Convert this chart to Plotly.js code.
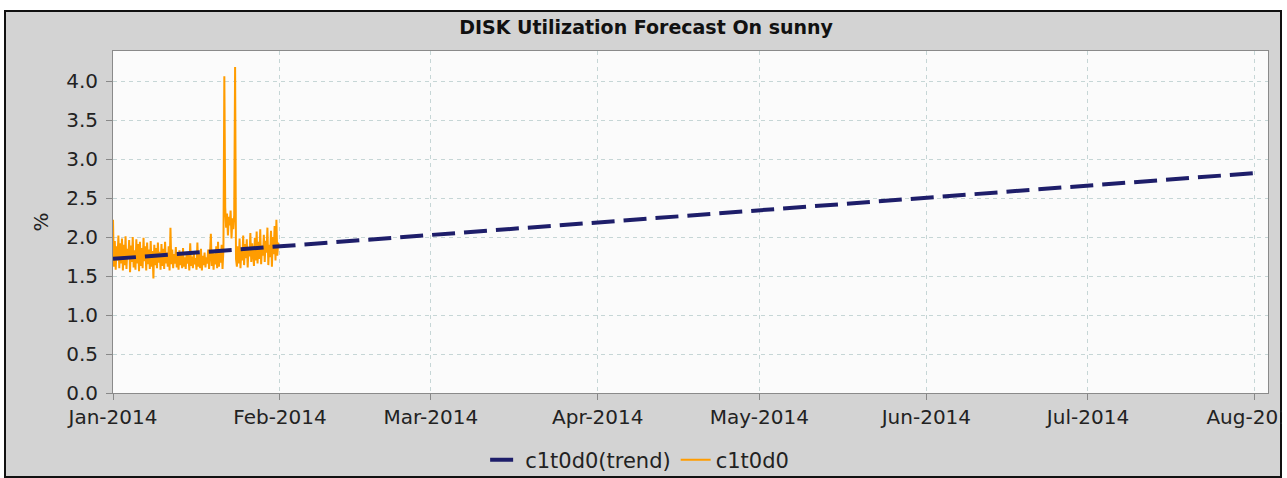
<!DOCTYPE html>
<html>
<head>
<meta charset="utf-8">
<script src="https://cdn.plot.ly/plotly-3.0.1.min.js"></script>
<style>
  html, body { margin: 0; padding: 0; background: #ffffff; }
  #chart { width: 1287px; height: 478px; }
</style>
</head>
<body>
<div id="chart"></div>
<script>
// ---- data ----
const chartTitle = 'DISK Utilization Forecast On sunny';
const yAxisTitle = '%';
const seriesName = 'c1t0d0';
const trendName = 'c1t0d0(trend)';

// measured utilisation, sampled every 4 hours starting 2014-01-01 00:00
const sampleStart = '2014-01-01T00:00:00';
const sampleStepHours = 4;
const diskUtil = [
  2.22, 1.62, 1.95, 1.58, 1.88, 1.70,
  2.02, 1.60, 1.92, 1.66, 1.98, 1.57,
  1.90, 1.64, 2.01, 1.59, 1.85, 1.72,
  1.96, 1.55, 1.89, 1.68, 2.00, 1.61,
  1.83, 1.58, 1.97, 1.66, 1.91, 1.56,
  1.94, 1.63, 1.86, 1.60, 1.99, 1.69,
  1.88, 1.57, 1.93, 1.65, 1.84, 1.59,
  1.95, 1.62, 1.82, 1.47, 1.90, 1.64,
  1.86, 1.60, 1.93, 1.67, 1.81, 1.58,
  1.91, 1.63, 1.85, 1.59, 1.94, 1.66,
  1.80, 1.62, 1.88, 1.57, 2.12, 1.65,
  1.84, 1.60, 1.78, 1.66, 1.87, 1.61,
  1.76, 1.58, 1.83, 1.64, 1.79, 1.60,
  1.86, 1.62, 1.74, 1.59, 1.81, 1.66,
  1.77, 1.57, 1.92, 1.63, 1.75, 1.60,
  1.82, 1.65, 1.73, 1.58, 1.93, 1.62,
  1.78, 1.60, 1.85, 1.57, 1.76, 1.64,
  1.80, 1.61, 1.74, 1.66, 1.84, 1.59,
  1.77, 2.04, 1.63, 1.82, 1.58, 1.79,
  1.65, 1.88, 1.60, 1.94, 1.62, 1.81,
  1.67, 1.90, 1.59, 1.84, 4.06, 2.38,
  2.12, 2.30, 2.02, 2.26, 2.15, 2.34,
  1.98, 2.24, 2.10, 2.28, 4.18, 1.72,
  1.62, 1.88, 1.66, 1.98, 1.60, 1.84,
  1.70, 2.02, 1.64, 1.91, 1.73, 1.97,
  1.61, 1.86, 1.75, 2.05, 1.68, 1.92,
  1.79, 1.63, 1.99, 1.70, 2.07, 1.66,
  1.94, 1.72, 2.10, 1.65, 1.89, 1.76,
  2.03, 1.68, 1.95, 1.80, 2.12, 1.64,
  1.90, 1.74, 2.08, 1.62, 2.00, 1.78,
  2.14, 1.70, 2.22, 1.76, 1.93
];

// linear trend (forecast) endpoints
const trendDates = ['2014-01-01', '2014-08-01'];
const trendValues = [1.72, 2.82];

// axes
const xRange = ['2014-01-01', '2014-08-03 10:00'];
const yRange = [0, 4.385];
const yTickVals = [0, 0.5, 1, 1.5, 2, 2.5, 3, 3.5, 4];
const yTickText = ['0.0', '0.5', '1.0', '1.5', '2.0', '2.5', '3.0', '3.5', '4.0'];
const xTickVals = ['2014-01-01', '2014-02-01', '2014-03-01', '2014-04-01', '2014-05-01', '2014-06-01', '2014-07-01', '2014-08-01'];
const xTickText = ['Jan-2014', 'Feb-2014', 'Mar-2014', 'Apr-2014', 'May-2014', 'Jun-2014', 'Jul-2014', 'Aug-2014'];

// ---- build sample timestamps ----
function pad(n) { return (n < 10 ? '0' : '') + n; }
const t0 = new Date(sampleStart + 'Z').getTime();
const diskDates = diskUtil.map((_, i) => {
  const d = new Date(t0 + i * sampleStepHours * 3600 * 1000);
  return d.getUTCFullYear() + '-' + pad(d.getUTCMonth() + 1) + '-' + pad(d.getUTCDate()) +
    ' ' + pad(d.getUTCHours()) + ':' + pad(d.getUTCMinutes());
});

const fontFamily = '"DejaVu Sans", Verdana, sans-serif';
const W = 1287, H = 478;
const PL = 113, PR = 1268, PT = 51, PB = 393;
const px = v => (v - PL) / (PR - PL);
const py = v => (PB - v) / (PB - PT);

const traces = [
  {
    type: 'scatter', mode: 'lines', name: seriesName,
    x: diskDates, y: diskUtil,
    line: { color: '#ff9c00', width: 2 },
    legendrank: 2
  },
  {
    type: 'scatter', mode: 'lines', name: trendName,
    x: trendDates, y: trendValues,
    line: { color: '#1e1e6a', width: 4, dash: '23px,9px' },
    legendrank: 1
  }
];

const layout = {
  width: W, height: H,
  paper_bgcolor: '#ffffff',
  plot_bgcolor: '#fbfbfb',
  margin: { l: PL, r: W - PR, t: PT, b: H - PB, pad: 0 },
  showlegend: true,
  title: {
    text: '<b>' + chartTitle + '</b>',
    font: { family: fontFamily, size: 19, color: '#111111' },
    xref: 'container', x: 0.502, xanchor: 'center',
    yref: 'container', y: 1 - 27 / H, yanchor: 'middle'
  },
  xaxis: {
    type: 'date', range: xRange,
    tickmode: 'array', tickvals: xTickVals, ticktext: xTickText,
    ticks: 'outside', ticklen: 6, tickcolor: '#888888', tickwidth: 1,
    ticklabeloverflow: 'allow',
    tickfont: { family: fontFamily, size: 20, color: '#222222' },
    showgrid: true, gridcolor: '#c6d6d6', gridwidth: 1, griddash: '4px,4px',
    showline: true, linecolor: '#8a8a8a', linewidth: 1, mirror: true,
    zeroline: false, fixedrange: true
  },
  yaxis: {
    range: yRange,
    tickmode: 'array', tickvals: yTickVals, ticktext: yTickText,
    ticks: 'outside', ticklen: 6, tickcolor: '#888888', tickwidth: 1,
    ticklabelstandoff: 4,
    tickfont: { family: fontFamily, size: 20, color: '#222222' },
    showgrid: true, gridcolor: '#c6d6d6', gridwidth: 1, griddash: '4px,4px',
    showline: true, linecolor: '#8a8a8a', linewidth: 1, mirror: true,
    zeroline: false, fixedrange: true,
    title: { text: yAxisTitle, font: { family: fontFamily, size: 20, color: '#222222' }, standoff: 12 }
  },
  legend: {
    orientation: 'h',
    xref: 'container', x: 0.497, xanchor: 'center',
    yref: 'container', y: 1 - 460 / H, yanchor: 'middle',
    bgcolor: 'rgba(0,0,0,0)',
    font: { family: fontFamily, size: 21, color: '#222222' },
    itemwidth: 30, tracegroupgap: 0
  },
  shapes: [
    {
      type: 'rect', xref: 'paper', yref: 'paper', layer: 'below',
      x0: px(5), x1: px(1281), y0: py(477), y1: py(11),
      fillcolor: '#d3d3d3', line: { color: '#111111', width: 2 }
    },
    {
      type: 'rect', xref: 'paper', yref: 'paper', layer: 'below',
      x0: 0, x1: 1, y0: 0, y1: 1,
      fillcolor: '#fbfbfb', line: { width: 0 }
    },
    {
      type: 'rect', xref: 'paper', yref: 'paper', layer: 'above',
      x0: px(1282), x1: px(1295), y0: py(485), y1: py(0),
      fillcolor: '#ffffff', line: { width: 0 }
    }
  ]
};

Plotly.newPlot('chart', traces, layout, { staticPlot: true, displayModeBar: false });
</script>
</body>
</html>
